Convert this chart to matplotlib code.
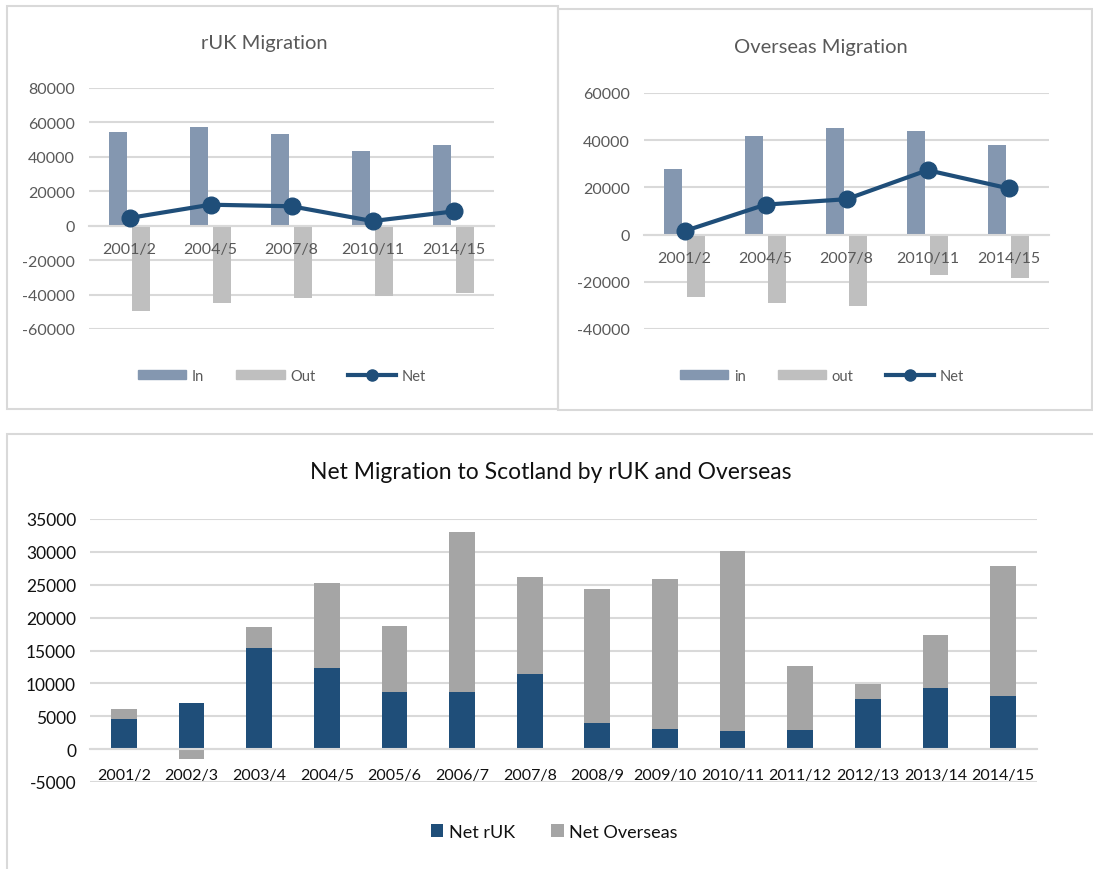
import matplotlib
matplotlib.use("Agg")
import matplotlib.pyplot as plt
from matplotlib.patches import Rectangle
from matplotlib.lines import Line2D
import numpy as np

plt.rcParams['font.family'] = ['Lato', 'DejaVu Sans']
plt.rcParams['axes.unicode_minus'] = False

# top charts
years_top = ['2001/2', '2004/5', '2007/8', '2010/11', '2014/15']
ruk_in = [54200, 57100, 53200, 43500, 47000]
ruk_out = [-49700, -44900, -41900, -40600, -38800]
ruk_net = [4500, 12200, 11300, 2700, 8300]
os_in = [27700, 41800, 45200, 44100, 37900]
os_out = [-26300, -29100, -30400, -17100, -18400]
os_net = [1500, 12700, 15000, 27300, 19600]

# bottom chart
years = ['2001/2', '2002/3', '2003/4', '2004/5', '2005/6', '2006/7', '2007/8',
         '2008/9', '2009/10', '2010/11', '2011/12', '2012/13', '2013/14', '2014/15']
net_ruk = [4550, 6950, 15400, 12400, 8750, 8650, 11350,
           3950, 3050, 2750, 2900, 7650, 9350, 8150]
net_overseas = [1550, -1550, 3100, 12850, 9950, 24350, 14900,
                20350, 22900, 27400, 9750, 2200, 8050, 19700]

C_IN = '#8497B0'
C_OUT = '#BFBFBF'
C_NET = '#1F4E79'
C_OS = '#A5A5A5'
GRID = '#D9D9D9'
TXT = '#595959'

W, H = 1093, 870
fig = plt.figure(figsize=(W / 100, H / 100), dpi=100)


def px_axes(left, top, right, bottom):
    return fig.add_axes([left / W, 1 - bottom / H, (right - left) / W, (bottom - top) / H])


def panel(left, top, right, bottom):
    fig.patches.append(Rectangle((left / W, 1 - bottom / H), (right - left) / W, (bottom - top) / H,
                                 transform=fig.transFigure, fill=False, edgecolor='#D9D9D9',
                                 linewidth=1.5))


def style(ax, labels, color, size, xsize, offset):
    for s in ['top', 'right', 'left']:
        ax.spines[s].set_visible(False)
    ax.spines['bottom'].set_position(('data', 0))
    ax.spines['bottom'].set_color(GRID)
    ax.spines['bottom'].set_linewidth(1.5)
    ax.grid(axis='y', color=GRID, linewidth=1.5)
    ax.set_axisbelow(True)
    ax.tick_params(axis='both', length=0, labelcolor=color, labelsize=size)
    ax.tick_params(axis='y', pad=10)
    ax.set_xticks(range(len(labels)))
    ax.set_xticklabels([])
    # category labels sit next to the zero line, above the bars
    for i, lab in enumerate(labels):
        ax.annotate(lab, xy=(i, 0), xytext=(0, -offset), textcoords='offset points',
                    ha='center', va='center', fontsize=xsize, color=color, zorder=5)


def top_chart(ax, vin, vout, vnet, ylim, step):
    x = np.arange(len(years_top))
    w = 0.22
    ax.bar(x - 0.143, vin, w, color=C_IN, zorder=2)
    ax.bar(x + 0.143, vout, w, color=C_OUT, zorder=2)
    ax.plot(x, vnet, color=C_NET, linewidth=3, marker='o', markersize=12, zorder=3)
    ax.set_xlim(-0.5, len(x) - 0.5)
    ax.set_ylim(*ylim)
    yt = np.arange(ylim[0], ylim[1] + 1, step)
    ax.set_yticks(yt)
    ax.set_yticklabels([f'{int(v)}' for v in yt])
    style(ax, years_top, TXT, 11.5, 11.5, 17)


panel(7, 7, 558, 410)
panel(558, 10, 1092, 411)
panel(7, 435, 1100, 880)

# rUK
ax1 = px_axes(89, 89, 494, 330)
top_chart(ax1, ruk_in, ruk_out, ruk_net, (-60000, 80000), 20000)
fig.text(264 / W, 1 - 43 / H, 'rUK Migration', ha='center', va='center', fontsize=14.5, color=TXT)
h1 = [Rectangle((0, 0), 1, 1, color=C_IN), Rectangle((0, 0), 1, 1, color=C_OUT),
      Line2D([], [], color=C_NET, linewidth=3, marker='o', markersize=8)]
fig.legend(h1, ['In', 'Out', 'Net'], loc='center', bbox_to_anchor=(282 / W, 1 - 377 / H),
           ncol=3, frameon=False, fontsize=10.5, labelcolor=TXT, handlelength=3.3,
           handleheight=0.6, columnspacing=2.2, handletextpad=0.4)

# Overseas
ax2 = px_axes(644, 94, 1049, 330)
top_chart(ax2, os_in, os_out, os_net, (-40000, 60000), 20000)
fig.text(821 / W, 1 - 47 / H, 'Overseas Migration', ha='center', va='center', fontsize=14.5, color=TXT)
fig.legend(h1, ['in', 'out', 'Net'], loc='center', bbox_to_anchor=(822 / W, 1 - 377 / H),
           ncol=3, frameon=False, fontsize=10.5, labelcolor=TXT, handlelength=3.3,
           handleheight=0.6, columnspacing=2.2, handletextpad=0.4)

# Net migration
ax3 = px_axes(90, 520, 1037, 783)
x = np.arange(len(years))
bw = 0.38
ruk = np.array(net_ruk)
ovs = np.array(net_overseas)
ax3.bar(x, ruk, bw, color=C_NET, zorder=2, label='Net rUK')
ax3.bar(x, ovs, bw, bottom=np.where(ovs >= 0, ruk, 0), color=C_OS, zorder=2, label='Net Overseas')
ax3.set_xlim(-0.5, len(x) - 0.5)
ax3.set_ylim(-5000, 35000)
yt = np.arange(-5000, 35001, 5000)
ax3.set_yticks(yt)
ax3.set_yticklabels([f'{int(v)}' for v in yt])
style(ax3, years, '#111111', 12.5, 11.5, 18.5)
fig.text(551 / W, 1 - 473 / H, 'Net Migration to Scotland by rUK and Overseas', ha='center',
         va='center', fontsize=16.5, color='#111111')
fig.legend(loc='center', bbox_to_anchor=(554 / W, 1 - 833 / H), ncol=2, frameon=False,
           fontsize=13, labelcolor='#111111', handlelength=0.7, handleheight=0.7,
           columnspacing=2.0, handletextpad=0.3)

fig.savefig('out.png', dpi=100)
